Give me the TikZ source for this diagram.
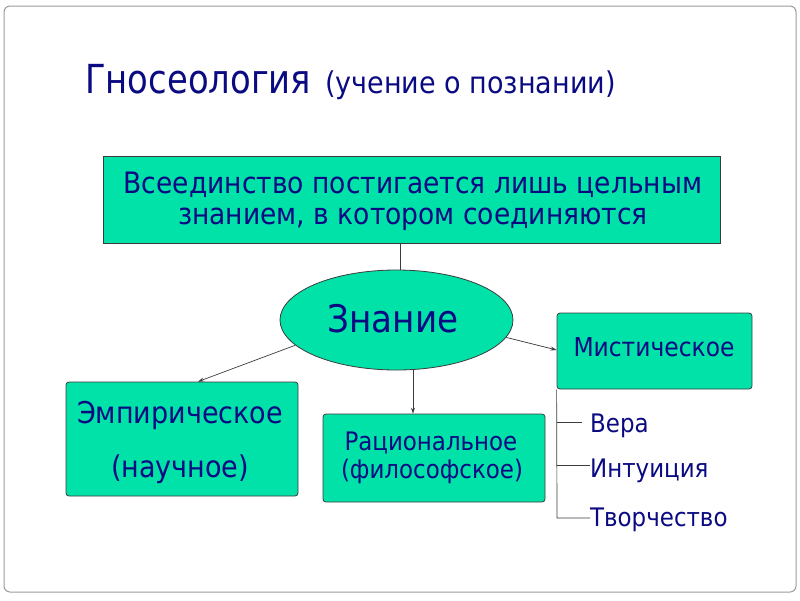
\documentclass[tikz,border=0pt]{standalone}
\usepackage{fontspec}
\setmainfont{DejaVu Sans Condensed}
\usepackage{graphicx}
\usetikzlibrary{shapes.geometric,arrows.meta}
\definecolor{mint}{RGB}{0,226,168}
\definecolor{navy}{RGB}{10,10,130}
\definecolor{edge}{RGB}{60,60,60}
\newcommand{\fs}[1]{\fontsize{#1}{#1}\selectfont}
\tikzset{
  box/.style={draw=edge,fill=mint,line width=0.8pt,inner sep=0pt},
  rbox/.style={box,rounded corners=3pt},
  txt/.style={text=navy,inner sep=0pt,anchor=base},
  conn/.style={draw=edge,line width=0.7pt},
  arr/.style={conn,-{Stealth[length=6pt,width=4pt]}}
}
\begin{document}
\begin{tikzpicture}[x=1pt,y=-1pt]
\useasboundingbox (0,0) rectangle (800,600);
\draw[draw=gray!80,line width=1pt,rounded corners=6pt] (4,6) rectangle (796,592);
% title
\node[txt,anchor=base west] (title) at (85,93) {\fs{40}\scalebox{0.94}[1]{Гносеология}};
\node[txt,anchor=base west] (sub) at (325,93) {\fs{30}(учение о познании)};
% top box
\node[box,minimum width=617pt,minimum height=87pt] (top) at (411.5,199.5) {};
\node[txt] (t1) at (413,193) {\fs{29.5}Всеединство постигается лишь цельным};
\node[txt] (t2) at (413,224) {\fs{29.5}знанием, в котором соединяются};
% ellipse
\node[box,ellipse,minimum width=233pt,minimum height=100pt] (zn) at (396.5,320) {};
\node[txt] (znt) at (393,332) {\fs{38}Знание};
% boxes
\node[rbox,minimum width=195pt,minimum height=76pt] (mys) at (654.5,351) {};
\node[txt] (myst) at (654,356) {\fs{26}Мистическое};
\node[rbox,minimum width=232pt,minimum height=114pt] (emp) at (182,439) {};
\node[txt] (e1) at (180,423) {\fs{30}Эмпирическое};
\node[txt] (e2) at (180,477) {\fs{30}(научное)};
\node[rbox,minimum width=222pt,minimum height=88pt] (rat) at (434,458) {};
\node[txt] (r1) at (431,450) {\fs{25.5}Рациональное};
\node[txt] (r2) at (432,478) {\fs{25.5}(философское)};
% connectors
\draw[conn] (top.south -| 400,0) -- (zn.north -| 400,0);
\draw[arr] (zn.-166) -- (emp.north -| 198,0);
\draw[arr] (zn.south -| 413,0) -- (rat.north -| 413,0);
\draw[arr] (zn.-9) -- (mys.west |- 0,350);
% list
\node[txt,anchor=base west] (vera) at (590,432) {\fs{25.5}Вера};
\node[txt,anchor=base west] (intu) at (590,477) {\fs{25.5}Интуиция};
\node[txt,anchor=base west] (tvor) at (590,526) {\fs{25.5}Творчество};
\coordinate (c1) at (557,422);
\coordinate (c2) at (557,465);
\coordinate (c3) at (557,518);
\draw[conn] (mys.south west) -- (c3) -- (tvor.west |- c3);
\draw[conn] (c1) -- (582,422);
\draw[conn] (c2) -- (intu.west |- c2);
\end{tikzpicture}
\end{document}
